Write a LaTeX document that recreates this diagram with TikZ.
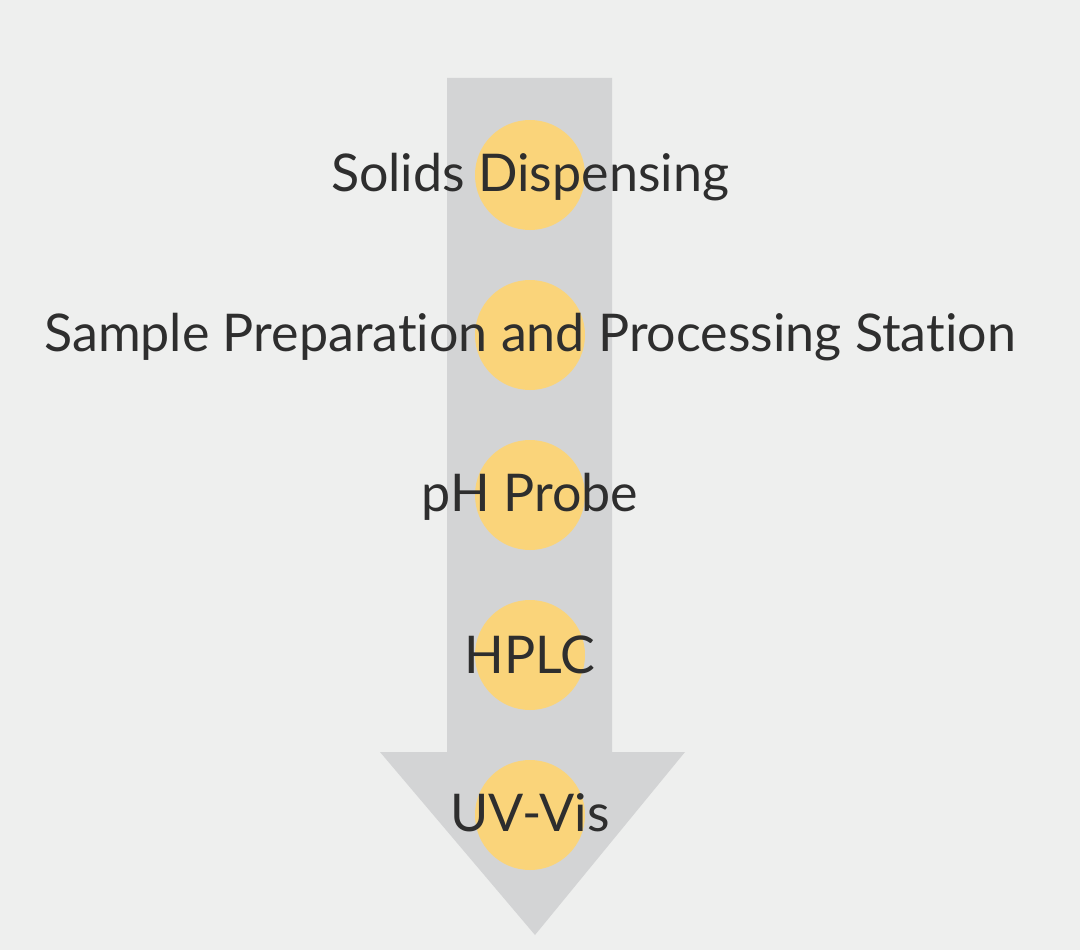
\documentclass[tikz,border=0pt]{standalone}
\usepackage{fontspec}
\setmainfont{Lato}[Ligatures={NoCommon}]
\definecolor{bg}{HTML}{EEEFEE}
\definecolor{arr}{HTML}{D3D4D5}
\definecolor{dot}{HTML}{FAD47A}
\definecolor{txt}{HTML}{2E2E2E}
\begin{document}
\begin{tikzpicture}[x=1pt,y=-1pt,
  dotc/.style={circle,fill=dot,minimum size=110pt,inner sep=0pt},
  lbl/.style={text=txt,font=\fontsize{52}{56}\selectfont,inner sep=0pt}]
\fill[bg] (0,0) rectangle (1080,950);
\useasboundingbox (0,0) rectangle (1080,950);
\fill[arr] (447,78) -- (612,78) -- (612,752) -- (685,752) -- (535,935) -- (380,752) -- (447,752) -- cycle;
\foreach \y/\n in {175/a,335/b,495/c,655/d,815/e} \node[dotc] (c\n) at (530,\y) {};
\node[lbl] (ta) at (530,177) {Solids Dispensing};
\node[lbl] (tb) at (530,337) {Sample Preparation and Processing Station};
\node[lbl] (tc) at (530,497) {pH Probe};
\node[lbl] (td) at (530,655) {HPLC};
\node[lbl] (te) at (530,813) {UV-Vis};
\end{tikzpicture}
\end{document}
